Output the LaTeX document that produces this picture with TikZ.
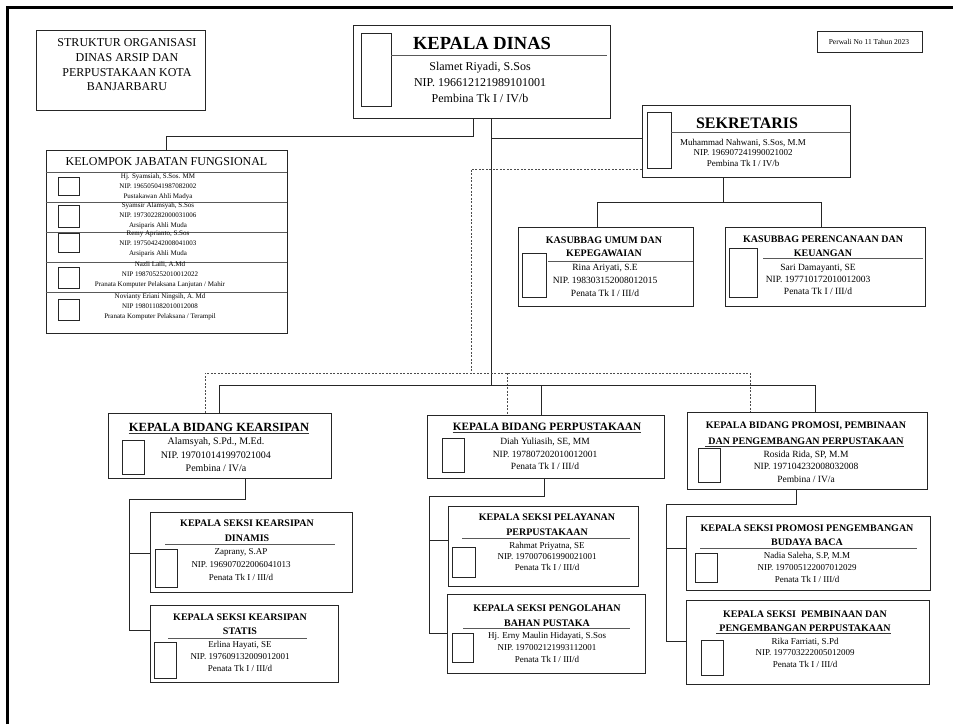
\documentclass[tikz,border=0pt]{standalone}
\usepackage{fontspec}
\setmainfont{Liberation Serif}
\newcommand\bx[6][box]{\node[#1, minimum width={(#5)-(#3)}, minimum height={(#6)-(#4)}] (#2) at ({((#3)+(#5))/2},{((#4)+(#6))/2}) {};}
\newcommand\fs[2]{\fontsize{#1}{#2}\selectfont}
\begin{document}
\begin{tikzpicture}[x=1pt,y=-1pt,
  box/.style={draw=black!85, line width=0.9pt, fill=white, inner sep=0pt},
  photo/.style={draw=black!85, line width=0.9pt, inner sep=0pt},
  sep/.style={draw=black!65, line width=0.9pt},
  link/.style={draw=black!85, line width=0.9pt},
  dlink/.style={draw=black!70, line width=0.8pt, dash pattern=on 2pt off 1.5pt},
  t/.style={inner sep=0pt, align=center},
  uline/.style={draw=black!80, line width=0.8pt},
]
\useasboundingbox (0,0) rectangle (953,724);
\fill[white] (0,0) rectangle (953,724);
\draw[line width=3pt] (7,724) -- (7,7) -- (953,7);

% boxes
\bx{title}{36}{30}{205}{110}
\bx{kd}{353}{25}{610}{118}
\bx[photo]{kdP}{361}{33}{391}{106}
\bx{sek}{642}{105}{850}{177}
\bx[photo]{sekP}{647}{112}{671}{168}
\bx{kum}{518}{227}{693}{306}
\bx[photo]{kumP}{522}{253}{546}{297}
\bx{kpk}{725}{227}{925}{306}
\bx[photo]{kpkP}{729}{248}{757}{297}
\bx{kjf}{46}{150}{287}{333}
\bx[photo]{kjfP1}{58}{177}{79}{195}
\bx[photo]{kjfP2}{58}{205}{79}{227}
\bx[photo]{kjfP3}{58}{233}{79}{252}
\bx[photo]{kjfP4}{58}{267}{79}{288}
\bx[photo]{kjfP5}{58}{299}{79}{320}
\bx{bka}{108}{413}{331}{478}
\bx[photo]{bkaP}{122}{440}{144}{474}
\bx{bpp}{427}{415}{664}{478}
\bx[photo]{bppP}{442}{438}{464}{472}
\bx{bpr}{687}{412}{927}{489}
\bx[photo]{bprP}{698}{448}{720}{482}
\bx{sdn}{150}{512}{352}{592}
\bx[photo]{sdnP}{155}{549}{177}{587}
\bx{sst}{150}{605}{338}{682}
\bx[photo]{sstP}{154}{642}{176}{678}
\bx{spl}{448}{506}{638}{586}
\bx[photo]{splP}{452}{547}{475}{577}
\bx{spg}{447}{594}{645}{673}
\bx[photo]{spgP}{452}{633}{473}{662}
\bx{spb}{686}{516}{930}{590}
\bx[photo]{spbP}{695}{553}{717}{582}
\bx{spn}{686}{600}{929}{684}
\bx[photo]{spnP}{701}{640}{723}{675}
\bx{perwali}{817}{31}{922}{52}

% separator lines inside boxes
\draw[sep] (kdP.east |- 0,55) -- (607,55);
\draw[sep] (sekP.east |- 0,132) -- (sek.east |- 0,132);
\draw[sep] (548,261) -- (kum.east |- 0,261);
\draw[sep] (763,258) -- (923,258);
\foreach \yy in {172,202,232,262,292} \draw[sep] (kjf.west |- 0,\yy) -- (kjf.east |- 0,\yy);
\draw[sep] (165,544) -- (335,544);
\draw[sep] (168,638) -- (307,638);
\draw[sep] (462,538) -- (630,538);
\draw[sep] (463,628) -- (630,628);
\draw[sep] (700,548) -- (917,548);

% connectors
\coordinate (jA) at (473,136);
\draw[link] (kd.south -| jA) -- (jA) -- (jA -| kjf.north) -- (kjf.north);
\coordinate (jB) at (491,385);
\draw[link] (kd.south -| jB) -- (jB);
\coordinate (jS) at (491,138);
\draw[link] (jS) -- (jS -| sek.west);
\coordinate (jK) at (723,202);
\coordinate (jK1) at (597,202);
\coordinate (jK2) at (821,202);
\draw[link] (sek.south -| jK) -- (jK);
\draw[link] (jK1 |- kum.north) -- (jK1) -- (jK2) -- (jK2 |- kpk.north);

\coordinate (d0) at (471,169);
\coordinate (d1) at (471,373);
\coordinate (dL) at (205,373);
\coordinate (dM) at (507,373);
\coordinate (dR) at (750,373);
\draw[dlink] (d0 -| sek.west) -- (d0) -- (d1);
\draw[dlink] (dL |- bka.north) -- (dL) -- (dR) -- (dR |- bpr.north);
\draw[dlink] (dM) -- (dM |- bpp.north);

\coordinate (sL) at (219,385);
\coordinate (sM) at (541,385);
\coordinate (sR) at (815,385);
\draw[link] (sL |- bka.north) -- (sL) -- (sR) -- (sR |- bpr.north);
\draw[link] (sM) -- (sM |- bpp.north);

\coordinate (a1) at (245,499);
\coordinate (a2) at (129,499);
\coordinate (a3) at (129,553);
\coordinate (a4) at (129,630);
\draw[link] (bka.south -| a1) -- (a1) -- (a2) -- (a4) -- (a4 -| sst.west);
\draw[link] (a3) -- (a3 -| sdn.west);

\coordinate (b1) at (544,496);
\coordinate (b2) at (429,496);
\coordinate (b3) at (429,540);
\coordinate (b4) at (429,633);
\draw[link] (bpp.south -| b1) -- (b1) -- (b2) -- (b4) -- (b4 -| spg.west);
\draw[link] (b3) -- (b3 -| spl.west);

\coordinate (c1) at (796,504);
\coordinate (c2) at (666,504);
\coordinate (c3) at (666,548);
\coordinate (c4) at (666,641);
\draw[link] (bpr.south -| c1) -- (c1) -- (c2) -- (c4) -- (c4 -| spn.west);
\draw[link] (c3) -- (c3 -| spb.west);

% texts
\node[t, font=\fs{12}{14.7}] (titleT) at (127,65) {STRUKTUR ORGANISASI\\DINAS ARSIP DAN\\PERPUSTAKAAN KOTA\\BANJARBARU};
\node[t, font=\fs{7.5}{9}] (perwaliT) at (869,42) {Perwali No 11 Tahun 2023};

\node[t, font=\bfseries\fs{18.5}{20}] (kdT) at (482,43) {KEPALA DINAS};
\node[t, font=\fs{12}{16}] (kdD) at (480,82) {Slamet Riyadi, S.Sos\\NIP. 196612121989101001\\Pembina Tk I / IV/b};

\node[t, font=\bfseries\fs{16}{18}] (sekT) at (747,123) {SEKRETARIS};
\node[t, font=\fs{9}{10.5}] (sekD) at (743,152.5) {Muhammad Nahwani, S.Sos, M.M\\NIP. 196907241990021002\\Pembina Tk I / IV/b};

\node[t, font=\bfseries\fs{10}{13}] (kumT) at (604,246.5) {KASUBBAG UMUM DAN\\KEPEGAWAIAN};
\node[t, font=\fs{9.5}{13}] (kumD) at (605,280) {Rina Ariyati, S.E\\NIP. 198303152008012015\\Penata Tk I / III/d};

\node[t, font=\bfseries\fs{10}{14}] (kpkT) at (823,246) {KASUBBAG PERENCANAAN DAN\\KEUANGAN};
\node[t, font=\fs{9.5}{12}] (kpkD) at (818,279) {Sari Damayanti, SE\\NIP. 197710172010012003\\Penata Tk I / III/d};

\node[t, font=\fs{12}{14}] (kjfT) at (166.5,162) {KELOMPOK JABATAN FUNGSIONAL};
\node[t, font=\fs{7}{10}] (kjf1) at (158,187) {Hj. Syamsiah, S.Sos. MM\\NIP. 196505041987082002\\Pustakawan Ahli Madya};
\node[t, font=\fs{7}{10}] (kjf2) at (158,216) {Syamsir Alamsyah, S.Sos\\NIP. 197302282000031006\\Arsiparis Ahli Muda};
\node[t, font=\fs{7}{10}] (kjf3) at (158,244) {Remy Aprianto, S.Sos\\NIP. 197504242008041003\\Arsiparis Ahli Muda};
\node[t, font=\fs{7}{10}] (kjf4) at (160,275) {Nazli Laili, A.Md\\NIP 198705252010012022\\Pranata Komputer Pelaksana Lanjutan / Mahir};
\node[t, font=\fs{7}{10}] (kjf5) at (160,307) {Novianty Eriani Ningsih, A. Md\\NIP 198011082010012008\\Pranata Komputer Pelaksana / Terampil};

\node[t, font=\bfseries\fs{12.5}{14}] (bkaT) at (219,427) {KEPALA BIDANG KEARSIPAN};
\draw[uline] ([yshift=-2pt]bkaT.base west) -- ([yshift=-2pt]bkaT.base east);
\node[t, font=\fs{10}{13.5}] (bkaD) at (216,455) {Alamsyah, S.Pd., M.Ed.\\NIP. 197010141997021004\\Pembina / IV/a};

\node[t, font=\bfseries\fs{11.25}{13}] (bppT) at (547,427) {KEPALA BIDANG PERPUSTAKAAN};
\draw[uline] ([yshift=-2pt]bppT.base west) -- ([yshift=-2pt]bppT.base east);
\node[t, font=\fs{9.5}{12.5}] (bppD) at (545,454) {Diah Yuliasih, SE, MM\\NIP. 197807202010012001\\Penata Tk I / III/d};

\node[t, font=\bfseries\fs{10}{13}] (bprT1) at (806,426) {KEPALA BIDANG PROMOSI, PEMBINAAN};
\node[t, font=\bfseries\fs{10}{13}] (bprT2) at (806,441) {DAN PENGEMBANGAN PERPUSTAKAAN};
\draw[uline] ([yshift=-2pt,xshift=-3pt]bprT2.base west) -- ([yshift=-2pt]bprT2.base east);
\node[t, font=\fs{9.5}{12.5}] (bprD) at (806,466.5) {Rosida Rida, SP, M.M\\NIP. 197104232008032008\\Pembina / IV/a};

\node[t, font=\bfseries\fs{10}{15}] (sdnT) at (247,530.5) {KEPALA SEKSI KEARSIPAN\\DINAMIS};
\node[t, font=\fs{9}{13}] (sdnD) at (241,565) {Zaprany, S.AP\\NIP. 196907022006041013\\Penata Tk I / III/d};

\node[t, font=\bfseries\fs{10}{14}] (sstT) at (240,624) {KEPALA SEKSI KEARSIPAN\\STATIS};
\node[t, font=\fs{9}{12}] (sstD) at (240,656) {Erlina Hayati, SE\\NIP. 197609132009012001\\Penata Tk I / III/d};

\node[t, font=\bfseries\fs{10}{15}] (splT) at (547,524.5) {KEPALA SEKSI PELAYANAN\\PERPUSTAKAAN};
\node[t, font=\fs{9}{11}] (splD) at (547,556) {Rahmat Priyatna, SE\\NIP. 197007061990021001\\Penata Tk I / III/d};

\node[t, font=\bfseries\fs{10}{15}] (spgT) at (547,615.5) {KEPALA SEKSI PENGOLAHAN\\BAHAN PUSTAKA};
\node[t, font=\fs{9}{12}] (spgD) at (547,647) {Hj. Erny Maulin Hidayati, S.Sos\\NIP. 197002121993112001\\Penata Tk I / III/d};

\node[t, font=\bfseries\fs{10}{14}] (spbT) at (807,535) {KEPALA SEKSI PROMOSI PENGEMBANGAN\\BUDAYA BACA};
\node[t, font=\fs{9}{12}] (spbD) at (807,567) {Nadia Saleha, S.P, M.M\\NIP. 197005122007012029\\Penata Tk I / III/d};

\node[t, font=\bfseries\fs{10}{13}] (spnT1) at (805,614) {KEPALA SEKSI\ \ PEMBINAAN DAN};
\node[t, font=\bfseries\fs{10}{13}] (spnT2) at (805,628) {PENGEMBANGAN PERPUSTAKAAN};
\draw[uline] ([yshift=-2pt,xshift=-3pt]spnT2.base west) -- ([yshift=-2pt]spnT2.base east);
\node[t, font=\fs{9}{11.5}] (spnD) at (805,652.5) {Rika Farriati, S.Pd\\NIP. 197703222005012009\\Penata Tk I / III/d};
\end{tikzpicture}
\end{document}
